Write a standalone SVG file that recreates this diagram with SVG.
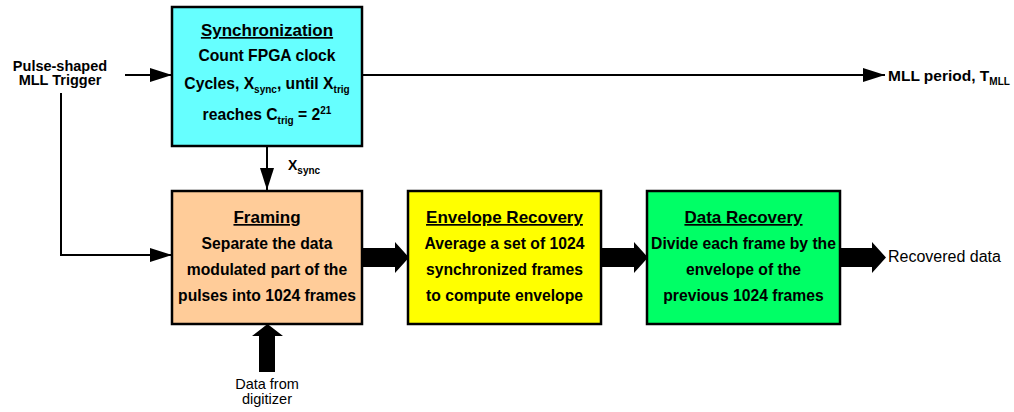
<svg xmlns="http://www.w3.org/2000/svg" width="1014" height="412" viewBox="0 0 1014 412">
<defs>
<marker id="ah" markerWidth="22" markerHeight="14" refX="22" refY="7" orient="auto" markerUnits="userSpaceOnUse">
<path d="M0,0 L22,7 L0,14 Z" fill="#000"/>
</marker>
<style>
.box{stroke:#000;stroke-width:2.5}
.t{font-family:"Liberation Sans",Arial,sans-serif;font-size:15.7px;font-weight:bold;fill:#000;text-anchor:middle}
.h{font-size:17px;text-decoration:underline}
.l{font-family:"Liberation Sans",Arial,sans-serif;font-size:16px;fill:#000}
.s{font-size:10px}
.ln{stroke:#000;stroke-width:2;fill:none}
</style>
</defs>
<rect width="1014" height="412" fill="#fff"/>
<g id="connectors">
<line class="ln" x1="125" y1="75" x2="172" y2="75" marker-end="url(#ah)"/>
<polyline class="ln" points="61,93 61,255 172,255" marker-end="url(#ah)"/>
<line class="ln" x1="362" y1="75" x2="885" y2="75" marker-end="url(#ah)"/>
<line class="ln" x1="267" y1="146" x2="267" y2="190" marker-end="url(#ah)"/>
<path d="M363,248 H395 V242 L409,257.5 L395,273 V267 H363 Z" fill="#000"/>
<path d="M602,248 H634 V242 L648,257.5 L634,273 V267 H602 Z" fill="#000"/>
<path d="M841,248 H872 V242 L886,257.5 L872,273 V267 H841 Z" fill="#000"/>
<path d="M259,372 V336 H252 L267.5,324 L283,336 H275 V372 Z" fill="#000"/>
</g>
<g id="sync">
<rect class="box" x="172" y="7" width="190" height="139" fill="#66FFFF"/>
<text class="t h" x="267" y="36">Synchronization</text>
<text class="t" x="267" y="61">Count FPGA clock</text>
<text class="t" x="267" y="89">Cycles, X<tspan class="s" dy="4">sync</tspan><tspan dy="-4">, until X</tspan><tspan class="s" dy="4">trig</tspan></text>
<text class="t" x="267" y="120">reaches C<tspan class="s" dy="4">trig</tspan><tspan dy="-4"> = 2</tspan><tspan class="s" dy="-6">21</tspan></text>
</g>
<g id="framing">
<rect class="box" x="172" y="191" width="190" height="133" fill="#FFCC99"/>
<text class="t h" x="267" y="223">Framing</text>
<text class="t" x="267" y="249">Separate the data</text>
<text class="t" x="267" y="275">modulated part of the</text>
<text class="t" x="267" y="301">pulses into 1024 frames</text>
</g>
<g id="envelope">
<rect class="box" x="408" y="191" width="193" height="133" fill="#FFFF00"/>
<text class="t h" x="504.5" y="223">Envelope Recovery</text>
<text class="t" x="504.5" y="249">Average a set of 1024</text>
<text class="t" x="504.5" y="275">synchronized frames</text>
<text class="t" x="504.5" y="301">to compute envelope</text>
</g>
<g id="datarecovery">
<rect class="box" x="647" y="191" width="193" height="133" fill="#00FF66"/>
<text class="t h" x="743.5" y="223">Data Recovery</text>
<text class="t" x="743.5" y="249">Divide each frame by the</text>
<text class="t" x="743.5" y="275">envelope of the</text>
<text class="t" x="743.5" y="301">previous 1024 frames</text>
</g>
<g id="labels">
<text class="l" x="60" y="71" text-anchor="middle" style="font-weight:bold;font-size:14.5px">Pulse-shaped</text>
<text class="l" x="60" y="85" text-anchor="middle" style="font-weight:bold;font-size:14.5px">MLL Trigger</text>
<text class="l" x="288" y="170" style="font-weight:bold;font-size:14px">X<tspan class="s" dy="4">sync</tspan></text>
<text class="l" x="888" y="81" style="font-weight:bold;font-size:15.5px">MLL period, T<tspan class="s" dy="4">MLL</tspan></text>
<text class="l" x="888" y="262">Recovered data</text>
<text class="l" x="267" y="389" text-anchor="middle" style="font-size:14.5px">Data from</text>
<text class="l" x="267" y="404" text-anchor="middle" style="font-size:14.5px">digitizer</text>
</g>
</svg>
